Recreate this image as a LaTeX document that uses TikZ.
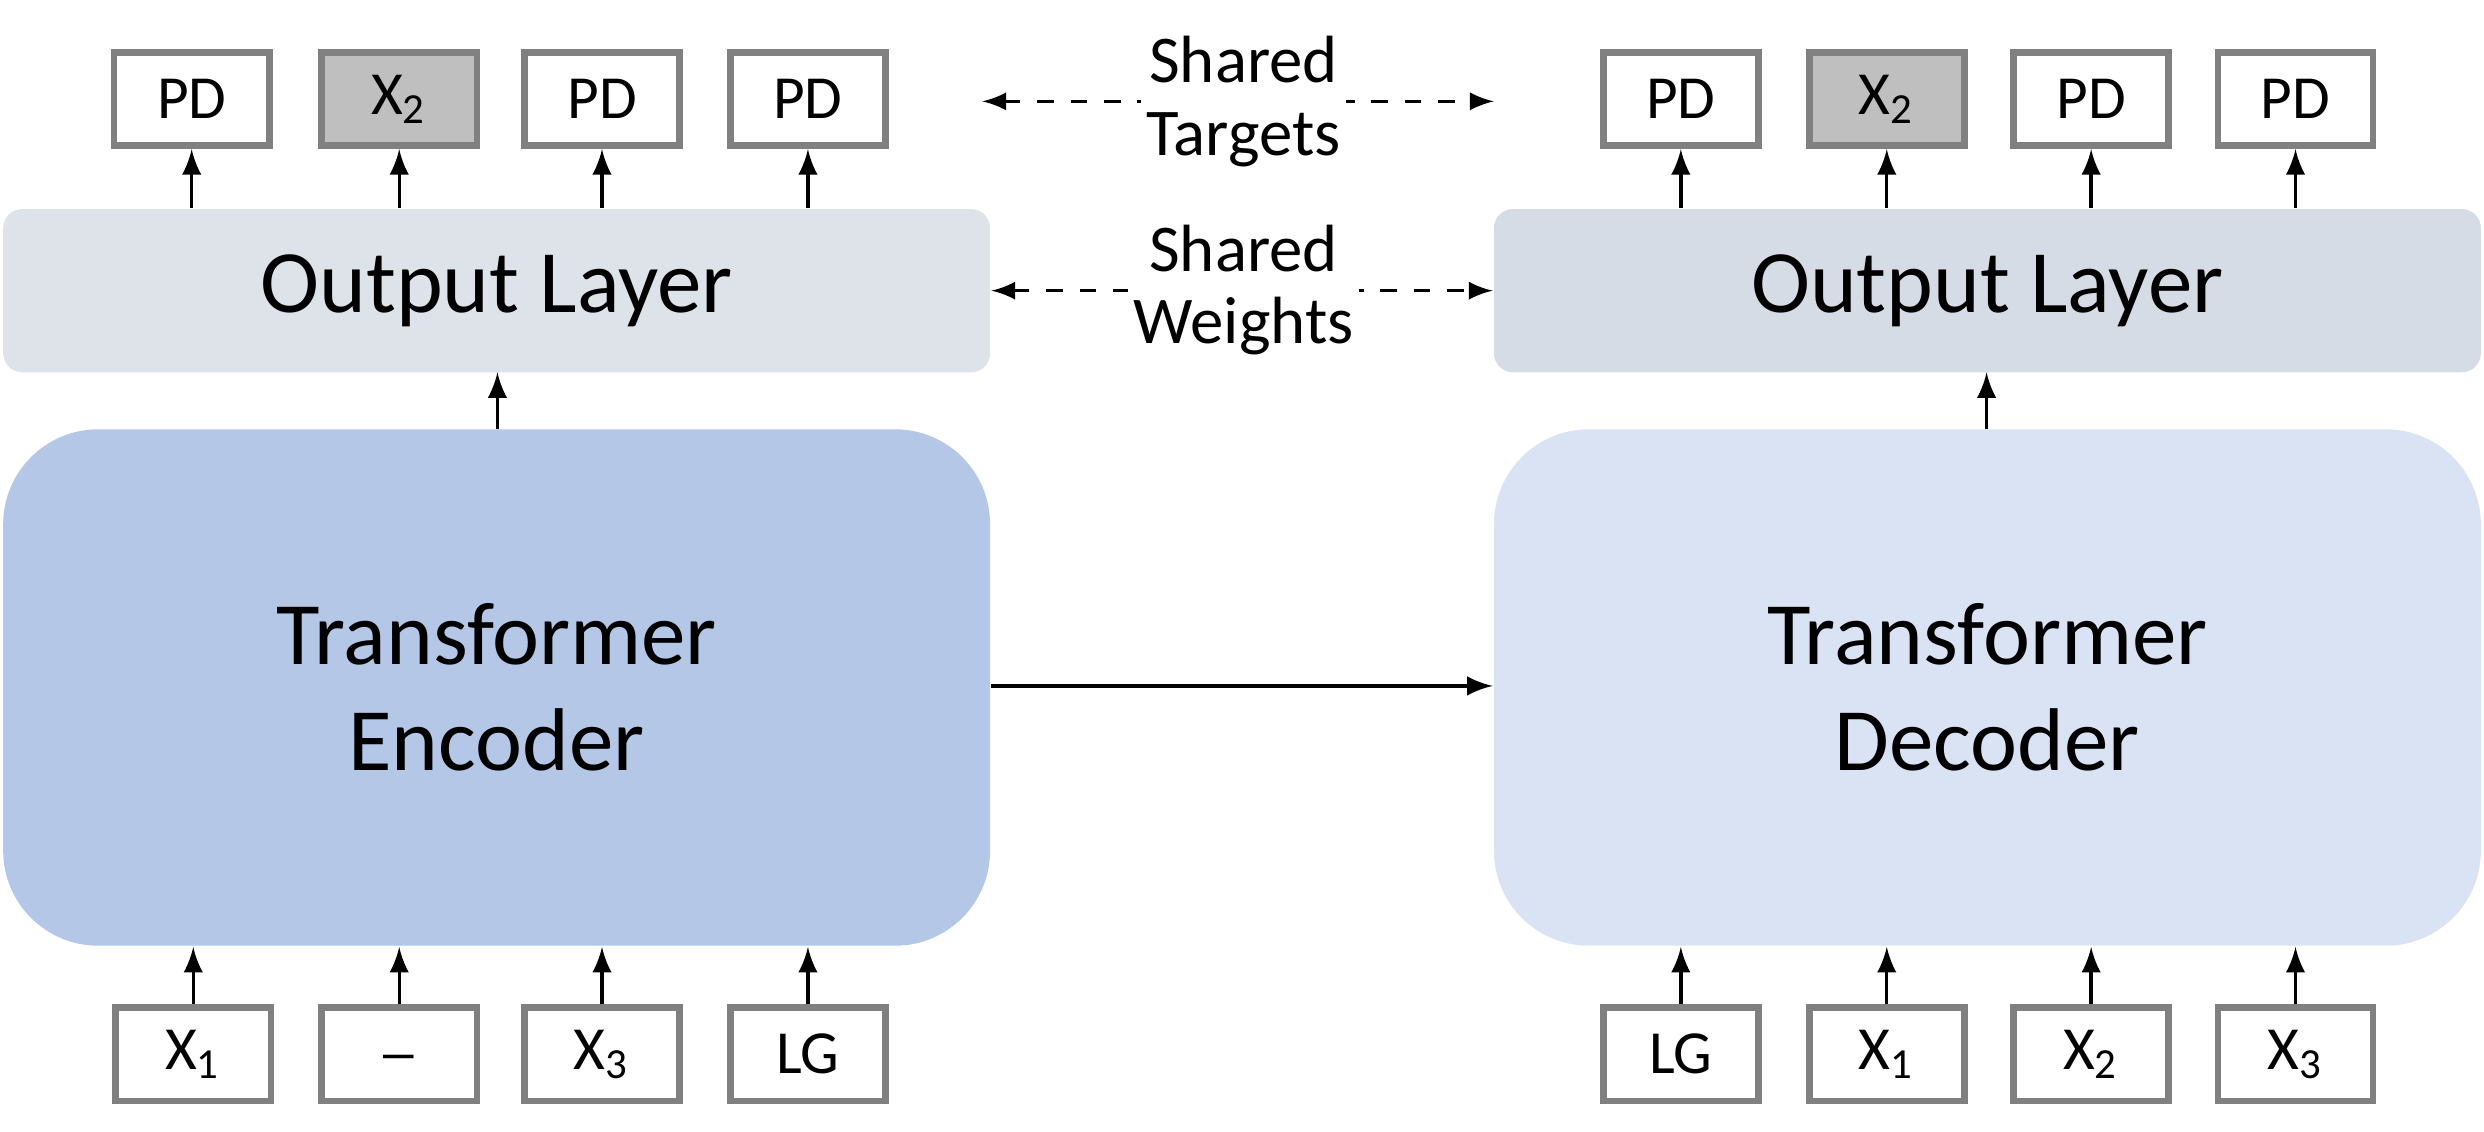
\documentclass[tikz,border=0pt]{standalone}
\usepackage{fontspec}
\setmainfont{Carlito}
\usetikzlibrary{positioning}
\definecolor{encfill}{HTML}{B4C7E7}
\definecolor{decfill}{HTML}{DAE3F3}
\definecolor{outfill}{HTML}{D6DCE5}
\definecolor{tokgray}{HTML}{BFBFBF}
\definecolor{tokline}{HTML}{808080}
\tikzset{
  token/.style={draw=tokline,line width=1.2pt,fill=white,minimum width=0.98cm,minimum height=0.59cm,inner sep=0pt,font=\fontsize{11}{11}\selectfont},
  block/.style={rounded corners=0.6cm,minimum width=6.23cm,minimum height=3.26cm,font=\fontsize{16}{19}\selectfont,align=center},
  outlayer/.style={rounded corners=0.12cm,minimum width=6.23cm,minimum height=1.03cm,font=\fontsize{16}{16}\selectfont},
  up/.style={-latex,line width=0.6pt},
  shared/.style={latex-latex,dashed,line width=0.5pt},
}
\begin{document}
\begin{tikzpicture}
  \useasboundingbox (0,0) rectangle (15.68,7.14);

  % blocks
  \node[block,fill=encfill] (enc) at (3.135,2.80) {Transformer\\Encoder};
  \node[block,fill=decfill] (dec) at (12.545,2.80) {Transformer\\Decoder};
  \node[outlayer,fill=outfill!80!white] (outL) at (3.135,5.305) {Output Layer};
  \node[outlayer,fill=outfill] (outR) at (12.545,5.305) {Output Layer};

  % inputs
  \node[token] (inA) at (1.22,0.485) {X\textsubscript{1}};
  \node[token] (inB) at (2.52,0.485) {\_};
  \node[token] (inC) at (3.80,0.485) {X\textsubscript{3}};
  \node[token] (inD) at (5.10,0.485) {LG};
  \node[token] (inE) at (10.61,0.485) {LG};
  \node[token] (inF) at (11.91,0.485) {X\textsubscript{1}};
  \node[token] (inG) at (13.20,0.485) {X\textsubscript{2}};
  \node[token] (inH) at (14.49,0.485) {X\textsubscript{3}};

  % targets
  \node[token] (tA) at (1.21,6.515) {PD};
  \node[token,fill=tokgray] (tB) at (2.52,6.515) {X\textsubscript{2}};
  \node[token] (tC) at (3.80,6.515) {PD};
  \node[token] (tD) at (5.10,6.515) {PD};
  \node[token] (tE) at (10.61,6.515) {PD};
  \node[token,fill=tokgray] (tF) at (11.91,6.515) {X\textsubscript{2}};
  \node[token] (tG) at (13.20,6.515) {PD};
  \node[token] (tH) at (14.49,6.515) {PD};

  % arrows
  \foreach \i in {A,B,C,D}
    \draw[up] (in\i.north) -- (in\i.north |- enc.south);
  \foreach \i in {E,F,G,H}
    \draw[up] (in\i.north) -- (in\i.north |- dec.south);
  \foreach \i in {A,B,C,D}
    \draw[up] (t\i.south |- outL.north) -- (t\i.south);
  \foreach \i in {E,F,G,H}
    \draw[up] (t\i.south |- outR.north) -- (t\i.south);
  \draw[up] (3.14,4.43) -- (3.14,4.79);
  \draw[up] (12.54,4.43) -- (12.54,4.79);
  \draw[-latex,line width=0.6pt] (enc.east |- 0,2.81) -- (dec.west |- 0,2.81);

  % shared
  \draw[shared] (6.20,6.50) -- (9.43,6.50);
  \draw[shared] (outL.east) -- (outR.west);
  \node[font=\fontsize{12}{13}\selectfont,align=center,fill=white,inner sep=1pt] (st) at (7.85,6.50) {Shared\\Targets};
  \node[font=\fontsize{12}{13}\selectfont,align=center,fill=white,inner sep=1pt] (sw) at (7.85,5.31) {Shared\\Weights};
\end{tikzpicture}
\end{document}
